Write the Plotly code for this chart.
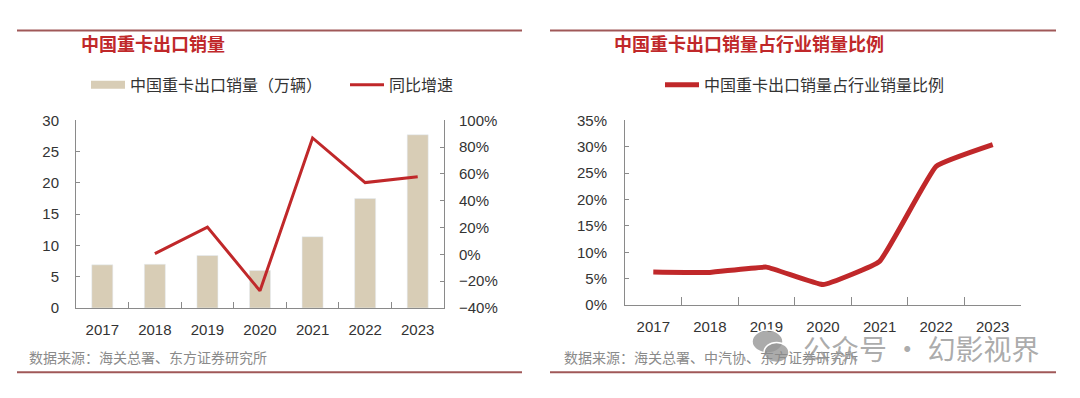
import plotly.graph_objects as go

years = ["2017", "2018", "2019", "2020", "2021", "2022", "2023"]
export_volume = [6.9, 7.0, 8.4, 6.0, 11.4, 17.5, 27.7]          # 万辆
yoy_growth = [None, 0.006, 0.204, -0.272, 0.869, 0.536, 0.579]  # 同比增速
export_share = [0.063, 0.062, 0.072, 0.039, 0.083, 0.263, 0.304]  # 占行业销量比例

W, H = 1080, 398
OX, OY = 8, 8  # page body margin offset
def px(x): return (x - OX) / W
def py(y): return 1 - (y - OY) / H

RED = "#C0282A"
BEIGE = "#D8CDB6"
AXIS = "#8a8a8a"
TXT = "#333333"
CJK = "Noto Sans CJK SC"
NUM = "Liberation Sans, Arial"

fig = go.Figure()

# Left chart
fig.add_trace(go.Bar(x=years, y=export_volume, marker_color=BEIGE, showlegend=False,
                     xaxis="x", yaxis="y", name="中国重卡出口销量（万辆）"))
fig.add_trace(go.Scatter(x=[None], y=[None], mode="lines", line=dict(color=BEIGE, width=8),
                         name="中国重卡出口销量（万辆）", legend="legend", xaxis="x", yaxis="y"))
fig.add_trace(go.Scatter(x=years, y=yoy_growth, mode="lines", line=dict(color=RED, width=3),
                         name="同比增速", xaxis="x", yaxis="y2", legend="legend",
                         connectgaps=False))
# Right chart
fig.add_trace(go.Scatter(x=years, y=export_share, mode="lines",
                         line=dict(color=RED, width=5, shape="spline", smoothing=0.3),
                         name="中国重卡出口销量占行业销量比例", xaxis="x2", yaxis="y3",
                         legend="legend2"))

xcommon = dict(type="category", range=[-0.5, 6.5], showline=True, linecolor=AXIS, linewidth=1,
               ticks="inside", tickson="boundaries", tickcolor=AXIS, ticklen=6,
               tickfont=dict(family=NUM, size=15, color=TXT), showgrid=False, zeroline=False,
               ticklabelstandoff=8, fixedrange=True)
ycommon = dict(showline=True, linecolor=AXIS, linewidth=1, ticks="inside", tickcolor=AXIS,
               ticklen=4, tickfont=dict(family=NUM, size=15, color=TXT), showgrid=False,
               zeroline=False, fixedrange=True)

fig.update_layout(
    width=W, height=H, margin=dict(l=0, r=0, t=0, b=0), autosize=False,
    paper_bgcolor="white", plot_bgcolor="white", bargap=0.6,
    xaxis=dict(domain=[px(76), px(444)], anchor="y", **xcommon),
    yaxis=dict(domain=[py(312), py(116)], range=[0, 30], dtick=5, anchor="x",
               ticklabelstandoff=13, **ycommon),
    yaxis2=dict(overlaying="y", side="right", anchor="x", range=[-0.4, 1.0], dtick=0.2,
                tickformat=".0%", ticklabelstandoff=11, **ycommon),
    xaxis2=dict(domain=[px(625), px(1021)], anchor="y3", **{**xcommon, "ticklen": 8}),
    yaxis3=dict(domain=[py(309), py(116)], anchor="x2", range=[0, 0.35], dtick=0.05,
                tickformat=".0%", ticklabelstandoff=14, **ycommon),
    legend=dict(orientation="h", x=px(86), y=py(79), xanchor="left", yanchor="middle",
                font=dict(family=CJK, size=16, color=TXT), bgcolor="rgba(0,0,0,0)",
                itemwidth=34, traceorder="normal", entrywidthmode="pixels", entrywidth=210),
    legend2=dict(orientation="h", x=px(660), y=py(79), xanchor="left", yanchor="middle",
                 font=dict(family=CJK, size=16, color=TXT), bgcolor="rgba(0,0,0,0)",
                 itemwidth=34),
    showlegend=True,
)

shapes = []
line_col = "#A05858"
for x0, x1, y in [(17, 522, 22), (550, 1056, 22), (17, 522, 379), (550, 1056, 379)]:
    shapes.append(dict(type="line", xref="paper", yref="paper", x0=px(x0), x1=px(x1),
                       y0=py(y), y1=py(y), line=dict(color=line_col, width=2)))
# watermark icon (two chat bubbles)
shapes.append(dict(type="circle", xref="paper", yref="paper", x0=px(752), x1=px(783),
                   y0=py(359), y1=py(335), fillcolor="rgba(150,150,150,0.8)",
                   line=dict(color="white", width=1.5), layer="above"))
shapes.append(dict(type="circle", xref="paper", yref="paper", x0=px(764), x1=px(789),
                   y0=py(369), y1=py(348), fillcolor="rgba(150,150,150,0.8)",
                   line=dict(color="white", width=1.5), layer="above"))
fig.update_layout(shapes=shapes)

ann = []
ann.append(dict(text="<b>中国重卡出口销量</b>", x=px(79), y=py(35), xref="paper", yref="paper",
                xanchor="left", yanchor="middle", showarrow=False,
                font=dict(family=CJK, size=18, color=RED)))
ann.append(dict(text="<b>中国重卡出口销量占行业销量比例</b>", x=px(612), y=py(35), xref="paper",
                yref="paper", xanchor="left", yanchor="middle", showarrow=False,
                font=dict(family=CJK, size=18, color=RED)))
ann.append(dict(text="数据来源：海关总署、东方证券研究所", x=px(27), y=py(363), xref="paper",
                yref="paper", xanchor="left", yanchor="middle", showarrow=False,
                font=dict(family=CJK, size=14, color="#8a8a8a")))
ann.append(dict(text="数据来源：海关总署、中汽协、东方证券研究所", x=px(562), y=py(363), xref="paper",
                yref="paper", xanchor="left", yanchor="middle", showarrow=False,
                font=dict(family=CJK, size=14, color="#8a8a8a")))
ann.append(dict(text="公众号 · 幻影视界", x=px(801), y=py(354), xref="paper", yref="paper",
                xanchor="left", yanchor="middle", showarrow=False,
                font=dict(family=CJK, size=28, color="rgba(150,150,150,0.8)")))
fig.update_layout(annotations=ann)

fig.write_html("out.html")
